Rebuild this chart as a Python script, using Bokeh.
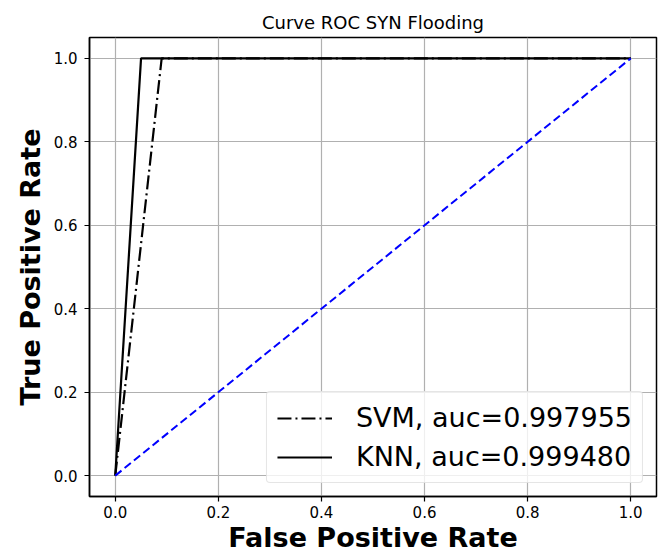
from bokeh.plotting import figure
from bokeh.models import Range1d, FixedTicker, Legend, LegendItem
from bokeh.embed import file_html
from bokeh.resources import INLINE

# data
svm_fpr = [0.0, 0.09, 1.0]
svm_tpr = [0.0, 1.0, 1.0]
knn_fpr = [0.0, 0.05, 1.0]
knn_tpr = [0.0, 1.0, 1.0]
diag_x = [0.0, 1.0]
diag_y = [0.0, 1.0]
svm_label = "SVM, auc=0.997955"
knn_label = "KNN, auc=0.999480"
ticks = [0.0, 0.2, 0.4, 0.6, 0.8, 1.0]
tick_labels = ["0.0", "0.2", "0.4", "0.6", "0.8", "1.0"]

FONT = "DejaVu Sans"

p = figure(width=671, height=557, output_backend="svg", toolbar_location=None,
           x_range=Range1d(-0.05, 1.05), y_range=Range1d(-0.05, 1.05),
           min_border_left=89, min_border_right=15, min_border_top=37, min_border_bottom=61,
           title="Curve ROC SYN Flooding")

p.title.text_font = FONT
p.title.text_font_size = "18px"
p.title.text_font_style = "normal"
p.title.text_color = "black"
p.title.align = "center"
p.title.standoff = 10

p.background_fill_color = "white"
p.border_fill_color = "white"
p.outline_line_color = "black"
p.outline_line_width = 1.5
p.outline_line_alpha = 1.0

for ax in (p.xaxis[0], p.yaxis[0]):
    ax.ticker = FixedTicker(ticks=ticks)
    ax.major_label_overrides = {t: l for t, l in zip(ticks, tick_labels)}
    ax.major_label_text_font = FONT
    ax.major_label_text_font_size = "15px"
    ax.major_label_text_color = "black"
    ax.axis_label_text_font = FONT
    ax.axis_label_text_font_size = "27px"
    ax.axis_label_text_font_style = "bold"
    ax.axis_label_text_color = "black"
    ax.major_tick_out = 5
    ax.major_tick_in = 0
    ax.major_tick_line_color = "black"
    ax.major_tick_line_width = 1.2
    ax.minor_tick_line_color = None
    ax.axis_line_color = "black"
    ax.axis_line_width = 1.5

p.xaxis.axis_label = "False Positive Rate"
p.yaxis.axis_label = "True Positive Rate"
p.xaxis.major_label_standoff = 4
p.xaxis.axis_label_standoff = 1
p.yaxis.major_label_standoff = 7
p.yaxis.axis_label_standoff = 5

for g in (p.xgrid[0], p.ygrid[0]):
    g.ticker = FixedTicker(ticks=ticks)
    g.grid_line_color = "#b0b0b0"
    g.grid_line_width = 1.2

r_svm = p.line(svm_fpr, svm_tpr, line_color="black", line_width=2.2, line_dash="14 4 2 4")
r_knn = p.line(knn_fpr, knn_tpr, line_color="black", line_width=2.2)
p.line(diag_x, diag_y, line_color="blue", line_width=2.0, line_dash="8 4")

legend = Legend(items=[LegendItem(label=svm_label, renderers=[r_svm]),
                       LegendItem(label=knn_label, renderers=[r_knn])],
                location="bottom_right")
legend.label_text_font = FONT
legend.label_text_font_size = "27px"
legend.label_text_color = "black"
legend.glyph_width = 55
legend.glyph_height = 30
legend.label_height = 30
legend.label_standoff = 24
legend.padding = 10
legend.spacing = 8
legend.margin = 13
legend.border_line_color = "#cccccc"
legend.border_line_width = 1.2
legend.border_radius = 4
legend.background_fill_color = "white"
legend.background_fill_alpha = 0.8
p.add_layout(legend, "center")

open("out.html", "w").write(file_html(p, INLINE))
